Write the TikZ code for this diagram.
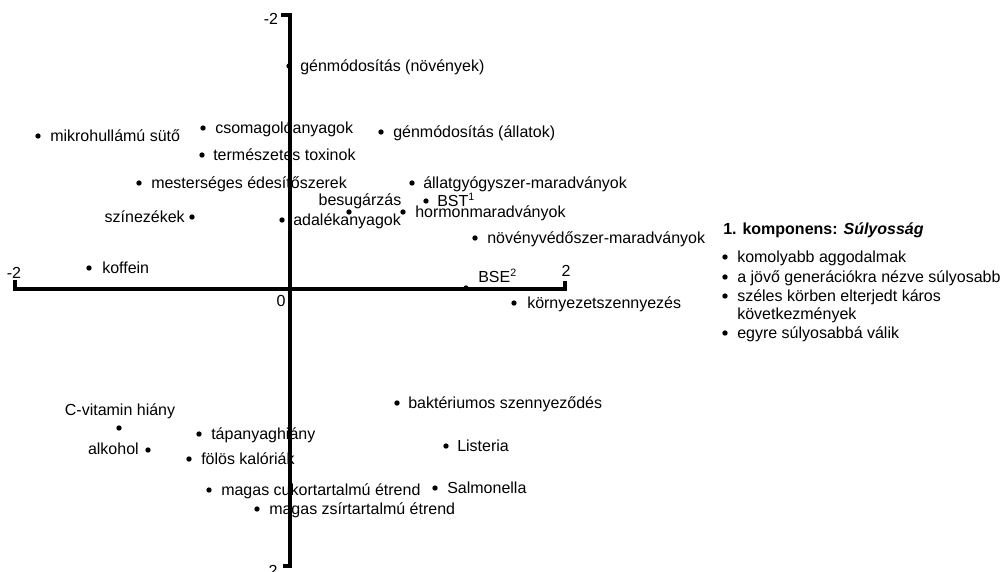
\documentclass[tikz,border=0pt]{standalone}
\usepackage{fontspec}
\setmainfont{Liberation Sans}
\begin{document}
\begin{tikzpicture}[x=0.75pt,y=-0.75pt,
  font=\fontsize{12}{14.4}\selectfont,
  dot/.style={circle,fill=black,inner sep=0pt,minimum size=4pt},
  lab/.style={anchor=west,inner sep=0pt,text height=8.6pt,text depth=0pt},
  txt/.style={inner sep=0pt,text height=8.6pt,text depth=0pt},
  axis/.style={line width=2.4pt,line cap=butt,line join=miter}]
\useasboundingbox (0,0) rectangle (1001,572);
% axes
\coordinate (tt) at (281,15);
\coordinate (t) at (290,15);
\coordinate (b) at (290,566);
\coordinate (bt) at (283,566);
\coordinate (lt) at (15,280);
\coordinate (l) at (15,289);
\coordinate (r) at (565,289);
\coordinate (rt) at (565,281);
\draw[axis] (tt) -- (t) -- (b) -- (bt);
\draw[axis] (lt) -- (l) -- (r) -- (rt);
\node[txt] (ytop) at (271,19) {-2};
\node[txt] (ybot) at (273,571) {2};
\node[txt] (xleft) at (14,273) {-2};
\node[txt] (xright) at (566,271) {2};
\node[txt] (orig) at (281,301) {0};
% points
\node[dot] (p1) at (289,66) {};
\node[lab] (l1) at (300,66) {génmódosítás (növények)};
\node[dot] (p2) at (38,136) {};
\node[lab] (l2) at (50,136) {mikrohullámú sütő};
\node[dot] (p3) at (203,128) {};
\node[lab] (l3) at (215,128) {csomagolóanyagok};
\node[dot] (p4) at (381,132) {};
\node[lab] (l4) at (393,132) {génmódosítás (állatok)};
\node[dot] (p5) at (202,155) {};
\node[lab] (l5) at (213,155) {természetes toxinok};
\node[dot] (p6) at (139,183) {};
\node[lab] (l6) at (151,183) {mesterséges édesítőszerek};
\node[dot] (p7) at (412,183) {};
\node[lab] (l7) at (423,183) {állatgyógyszer-maradványok};
\node[dot] (p8) at (426,201) {};
\node[lab] (l8) at (437,201) {BST\textsuperscript{1}};
\node[dot] (p9) at (349,212) {};
\node[txt] (l9) at (360,200) {besugárzás};
\node[dot] (p10) at (403,212) {};
\node[lab] (l10) at (415,212) {hormonmaradványok};
\node[dot] (p11) at (192,217) {};
\node[txt,anchor=east] (l11) at (185,217) {színezékek};
\node[dot] (p12) at (282,220) {};
\node[lab] (l12) at (293,220) {adalékanyagok};
\node[dot] (p13) at (475,238) {};
\node[lab] (l13) at (487,238) {növényvédőszer-maradványok};
\node[dot] (p14) at (89,268) {};
\node[lab] (l14) at (102,268) {koffein};
\node[dot] (p15) at (466,288) {};
\node[lab] (l15) at (478,277) {BSE\textsuperscript{2}};
\node[dot] (p16) at (514,303) {};
\node[lab] (l16) at (527,303) {környezetszennyezés};
\node[dot] (p17) at (119,428) {};
\node[txt] (l17) at (120,410) {C-vitamin hiány};
\node[dot] (p18) at (397,403) {};
\node[lab] (l18) at (408,403) {baktériumos szennyeződés};
\node[dot] (p19) at (199,434) {};
\node[lab] (l19) at (211,434) {tápanyaghiány};
\node[dot] (p20) at (148,450) {};
\node[txt,anchor=east] (l20) at (139,449) {alkohol};
\node[dot] (p21) at (446,446) {};
\node[lab] (l21) at (457,446) {Listeria};
\node[dot] (p22) at (189,459) {};
\node[lab] (l22) at (201,459) {fölös kalóriák};
\node[dot] (p23) at (435,488) {};
\node[lab] (l23) at (447,488) {Salmonella};
\node[dot] (p24) at (209,490) {};
\node[lab] (l24) at (221,490) {magas cukortartalmú étrend};
\node[dot] (p25) at (257,509) {};
\node[lab] (l25) at (269,509) {magas zsírtartalmú étrend};
% legend
\node[lab] (head) at (723,229) {\textbf{1. komponens: \textit{Súlyosság}}};
\node[dot] (b1) at (725,257) {};
\node[lab] (t1) at (737,257) {komolyabb aggodalmak};
\node[dot] (b2) at (725,277) {};
\node[lab] (t2) at (737,277) {a jövő generációkra nézve súlyosabb};
\node[dot] (b3) at (725,296) {};
\node[lab] (t3) at (737,296) {széles körben elterjedt káros};
\node[lab] (t3b) at (737,314) {következmények};
\node[dot] (b4) at (725,333) {};
\node[lab] (t4) at (737,333) {egyre súlyosabbá válik};
\end{tikzpicture}
\end{document}
